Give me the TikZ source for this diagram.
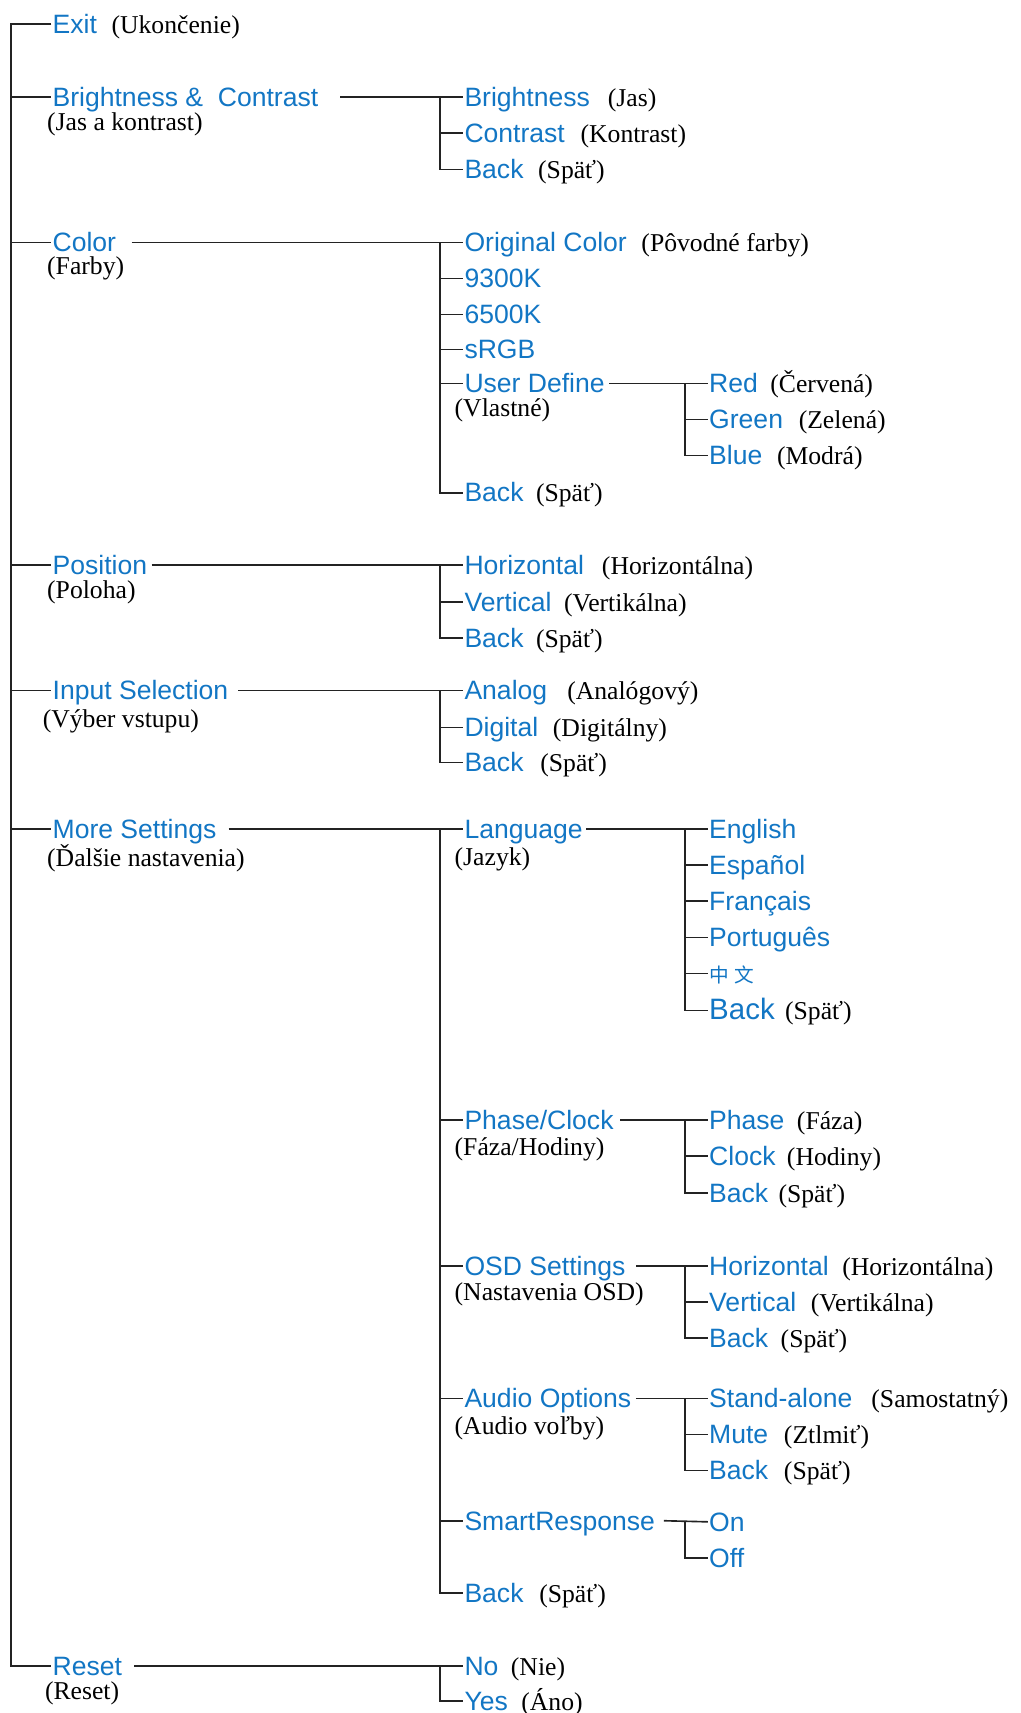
\documentclass[tikz,border=0pt]{standalone}
\usepackage{fontspec}
\setmainfont{Liberation Serif}
\setsansfont{Liberation Sans}
\newfontfamily\cjkfont{Noto Sans CJK SC}
\usepackage{tikz}
\usetikzlibrary{positioning}
\definecolor{osdBlue}{RGB}{18, 118, 196}
\definecolor{osdLine}{RGB}{35, 35, 35}

\begin{document}
\begin{tikzpicture}[
  x=1pt, y=-1pt,
  item/.style={
    anchor=west, inner sep=1pt, text=osdBlue,
    font=\sffamily\fontsize{24.3}{27}\selectfont,
    text height=17pt, text depth=0pt
  },
  note/.style={
    anchor=west, inner sep=1pt,
    font=\fontsize{23.5}{26}\selectfont,
    text height=17pt, text depth=0pt
  },
  wire/.style={draw=osdLine, line width=1.5pt}
]
\useasboundingbox (0,0) rectangle (934,1568);

% main menu
\node[item] (exit)  at (47,22)   {Exit};
\node[note, right=11pt of exit] (exitN) {(Ukončenie)};
\node[item] (bc)    at (47,89)   {Brightness \&~ Contrast};
\node[note] (bcN)   at (42,111)  {(Jas a kontrast)};
\node[item] (color) at (47,222)  {Color};
\node[note] (colorN) at (42,243) {(Farby)};
\node[item] (pos)   at (47,517)  {Position};
\node[note] (posN)  at (42,539)  {(Poloha)};
\node[item] (input) at (47,632)  {Input Selection};
\node[note] (inputN) at (38,657) {(Výber vstupu)};
\node[item] (more)  at (47,759)  {More Settings};
\node[note] (moreN) at (42,785)  {(Ďalšie nastavenia)};
\node[item] (reset) at (47,1525) {Reset};
\node[note] (resetN) at (40,1547) {(Reset)};

% second level
\node[item] (bri)    at (424,89)  {Brightness};
\node[note, right=14pt of bri] (briN) {(Jas)};
\node[item] (con)    at (424,122) {Contrast};
\node[note, right=12pt of con] (conN) {(Kontrast)};
\node[item] (bcbk)   at (424,155) {Back};
\node[note, right=11pt of bcbk] (bcbkN) {(Späť)};

\node[item] (orig)   at (424,222) {Original Color};
\node[note, right=11pt of orig] (origN) {(Pôvodné farby)};
\node[item] (k93)    at (424,255) {9300K};
\node[item] (k65)    at (424,288) {6500K};
\node[item] (srgb)   at (424,320) {sRGB};
\node[item] (user)   at (424,351) {User Define};
\node[note] (userN)  at (415,373) {(Vlastné)};
\node[item] (colbk)  at (424,451) {Back};
\node[note, right=9pt of colbk] (colbkN) {(Späť)};

\node[item] (hor)    at (424,517) {Horizontal};
\node[note, right=14pt of hor] (horN) {(Horizontálna)};
\node[item] (ver)    at (424,551) {Vertical};
\node[note, right=9pt of ver] (verN) {(Vertikálna)};
\node[item] (posbk)  at (424,584) {Back};
\node[note, right=9pt of posbk] (posbkN) {(Späť)};

\node[item] (analog)  at (424,632) {Analog};
\node[note, right=16pt of analog] (analogN) {(Analógový)};
\node[item] (digital) at (424,666) {Digital};
\node[note, right=11pt of digital] (digitalN) {(Digitálny)};
\node[item] (inbk)    at (424,698) {Back};
\node[note, right=13pt of inbk] (inbkN) {(Späť)};

\node[item] (lang)   at (424,759)  {Language};
\node[note] (langN)  at (415,784)  {(Jazyk)};
\node[item] (phase)  at (424,1025) {Phase/Clock};
\node[note] (phaseN) at (415,1049) {(Fáza/Hodiny)};
\node[item] (osd)    at (424,1159) {OSD Settings};
\node[note] (osdN)   at (415,1182) {(Nastavenia OSD)};
\node[item] (audio)  at (424,1280) {Audio Options};
\node[note] (audioN) at (415,1305) {(Audio voľby)};
\node[item] (smart)  at (424,1392) {SmartResponse};
\node[item] (morebk) at (424,1458) {Back};
\node[note, right=12pt of morebk] (morebkN) {(Späť)};

\node[item] (no)     at (424,1525) {No};
\node[note, right=9pt of no] (noN) {(Nie)};
\node[item] (yes)    at (424,1557) {Yes};
\node[note, right=10pt of yes] (yesN) {(Áno)};

% third level
\node[item] (red)    at (648,351) {Red};
\node[note, right=9pt of red] (redN) {(Červená)};
\node[item] (green)  at (648,384) {Green};
\node[note, right=12pt of green] (greenN) {(Zelená)};
\node[item] (blue)   at (648,417) {Blue};
\node[note, right=11pt of blue] (blueN) {(Modrá)};

\node[item] (eng)  at (648,759) {English};
\node[item] (esp)  at (648,792) {Español};
\node[item] (fra)  at (648,825) {Français};
\node[item] (por)  at (648,858) {Português};
\node[item, font=\cjkfont\fontsize{18}{20}\selectfont] (chi) at (648,891) {中\hspace{5pt}文};
\node[item, font=\sffamily\fontsize{27}{29}\selectfont] (lgbk) at (648,925) {Back};
\node[note, right=7pt of lgbk] (lgbkN) {(Späť)};

\node[item] (ph)    at (648,1025) {Phase};
\node[note, right=9pt of ph] (phN) {(Fáza)};
\node[item] (clk)   at (648,1058) {Clock};
\node[note, right=8pt of clk] (clkN) {(Hodiny)};
\node[item] (pcbk)  at (648,1092) {Back};
\node[note, right=7pt of pcbk] (pcbkN) {(Späť)};

\node[item] (ohor)  at (648,1159) {Horizontal};
\node[note, right=10pt of ohor] (ohorN) {(Horizontálna)};
\node[item] (over)  at (648,1192) {Vertical};
\node[note, right=11pt of over] (overN) {(Vertikálna)};
\node[item] (osbk)  at (648,1225) {Back};
\node[note, right=9pt of osbk] (osbkN) {(Späť)};

\node[item] (stand)  at (648,1280) {Stand-alone};
\node[note, right=15pt of stand] (standN) {(Samostatný)};
\node[item] (mute)   at (648,1313) {Mute};
\node[note, right=12pt of mute] (muteN) {(Ztlmiť)};
\node[item] (aubk)   at (648,1346) {Back};
\node[note, right=12pt of aubk] (aubkN) {(Späť)};

\node[item] (on)  at (648,1393) {On};
\node[item] (off) at (648,1426) {Off};

% tree lines
\coordinate (t0) at (10,0);
\coordinate (t1) at (403,0);
\coordinate (t2) at (627,0);

\draw[wire] (exit.west) -- (exit.west -| t0) -- (reset.west -| t0) -- (reset.west);
\foreach \n in {bc,color,pos,input,more}
  \draw[wire] (\n.west -| t0) -- (\n.west);

\draw[wire] ([xshift=19pt]bc.east) -- (bri.west);
\draw[wire] (bri.west -| t1) |- (bcbk.west);
\draw[wire] (con.west -| t1) -- (con.west);

\draw[wire] ([xshift=13pt]color.east) -- (orig.west);
\draw[wire] (orig.west -| t1) |- (colbk.west);
\foreach \n in {k93,k65,srgb,user}
  \draw[wire] (\n.west -| t1) -- (\n.west);

\draw[wire] ([xshift=3pt]pos.east) -- (hor.west);
\draw[wire] (hor.west -| t1) |- (posbk.west);
\draw[wire] (ver.west -| t1) -- (ver.west);

\draw[wire] ([xshift=8pt]input.east) -- (analog.west);
\draw[wire] (analog.west -| t1) |- (inbk.west);
\draw[wire] (digital.west -| t1) -- (digital.west);

\draw[wire] ([xshift=10pt]more.east) -- (lang.west);
\draw[wire] (lang.west -| t1) |- (morebk.west);
\foreach \n in {phase,osd,audio,smart}
  \draw[wire] (\n.west -| t1) -- (\n.west);

\draw[wire] ([xshift=10pt]reset.east) -- (no.west);
\draw[wire] (no.west -| t1) |- (yes.west);

\draw[wire] ([xshift=3pt]user.east) -- (red.west);
\draw[wire] (red.west -| t2) |- (blue.west);
\draw[wire] (green.west -| t2) -- (green.west);

\draw[wire] ([xshift=2pt]lang.east) -- (eng.west);
\draw[wire] (eng.west -| t2) |- (lgbk.west);
\foreach \n in {esp,fra,por,chi}
  \draw[wire] (\n.west -| t2) -- (\n.west);

\draw[wire] ([xshift=5pt]phase.east) -- (ph.west);
\draw[wire] (ph.west -| t2) |- (pcbk.west);
\draw[wire] (clk.west -| t2) -- (clk.west);

\draw[wire] ([xshift=9pt]osd.east) -- (ohor.west);
\draw[wire] (ohor.west -| t2) |- (osbk.west);
\draw[wire] (over.west -| t2) -- (over.west);

\draw[wire] ([xshift=3pt]audio.east) -- (stand.west);
\draw[wire] (stand.west -| t2) |- (aubk.west);
\draw[wire] (mute.west -| t2) -- (mute.west);

\draw[wire] ([xshift=7pt]smart.east) -- (on.west);
\draw[wire] (on.west -| t2) |- (off.west);

\end{tikzpicture}
\end{document}
